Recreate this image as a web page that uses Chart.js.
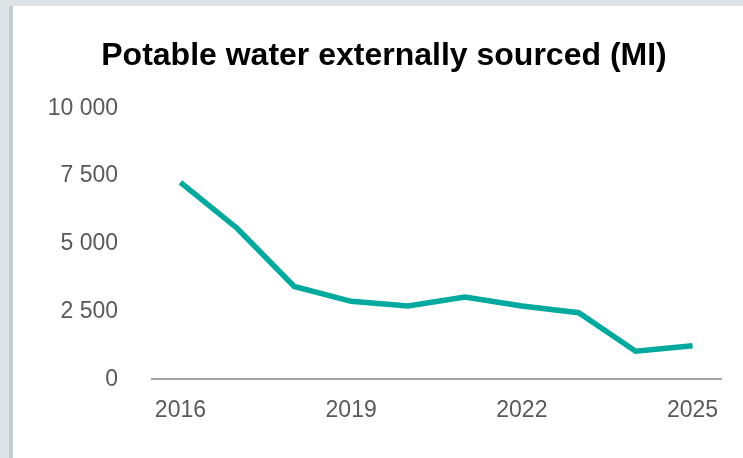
<!DOCTYPE html>
<html>
<head>
<meta charset="utf-8">
<script src="https://cdn.jsdelivr.net/npm/chart.js@4"></script>
<style>
  html, body { margin: 0; padding: 0; }
  body { width: 743px; height: 458px; background: #dde2e5; position: relative; overflow: hidden; }
  .panel { position: absolute; left: 9px; top: 6px; right: 0; bottom: 0; background: #fff; border-left: 4px solid #c3ccd2; }
  #chart-wrap { position: absolute; left: 0; top: 0; width: 743px; height: 458px; }
</style>
</head>
<body>
<div class="panel"></div>
<div id="chart-wrap"><canvas id="water-chart" width="743" height="458"></canvas></div>
<script>
// Years and volumes (Ml)
const years = ['2016', '2017', '2018', '2019', '2020', '2021', '2022', '2023', '2024', '2025'];
const potableWater = [7270, 5570, 3430, 2880, 2710, 3040, 2710, 2460, 1040, 1240];
const yTicks = [0, 2500, 5000, 7500, 10000];

// 10000 -> "10 000"
function spaced(v) {
  return String(v).replace(/\B(?=(\d{3})+(?!\d))/g, ' ');
}

const labelFont = { family: "'Liberation Sans', Arial, sans-serif", size: 23 };

const ctx = document.getElementById('water-chart').getContext('2d');
new Chart(ctx, {
  type: 'line',
  data: {
    labels: years,
    datasets: [{
      label: 'Potable water externally sourced (Ml)',
      data: potableWater,
      borderColor: '#00a99d',
      borderWidth: 5.5,
      pointRadius: 0,
      tension: 0,
      fill: false
    }]
  },
  options: {
    responsive: false,
    animation: false,
    // left padding keeps the title centred where the reference has it
    layout: { padding: { left: 47, right: 22, top: 6, bottom: 17 } },
    scales: {
      x: {
        offset: true,
        grid: { display: false, drawTicks: false },
        border: { display: true, color: '#a6a6a6', width: 2 },
        ticks: {
          autoSkip: false,
          maxRotation: 0,
          padding: 17,
          color: '#595959',
          font: labelFont,
          callback: function (val, i) {
            return i % 3 === 0 ? years[i] : '';
          }
        }
      },
      y: {
        min: yTicks[0],
        max: yTicks[yTicks.length - 1],
        grid: { display: false, drawTicks: false },
        border: { display: false },
        afterFit: function (scale) { scale.width = 105; },
        afterBuildTicks: function (scale) {
          scale.ticks = yTicks.map(v => ({ value: v }));
        },
        ticks: {
          padding: 34,
          color: '#595959',
          font: labelFont,
          callback: v => spaced(v)
        }
      }
    },
    plugins: {
      legend: { display: false },
      tooltip: { enabled: false },
      title: {
        display: true,
        text: 'Potable water externally sourced (MI)',
        color: '#000',
        font: { family: "'Liberation Sans', Arial, sans-serif", size: 32, weight: 'bold' },
        padding: { top: 31, bottom: 33 }
      }
    }
  }
});
</script>
</body>
</html>
